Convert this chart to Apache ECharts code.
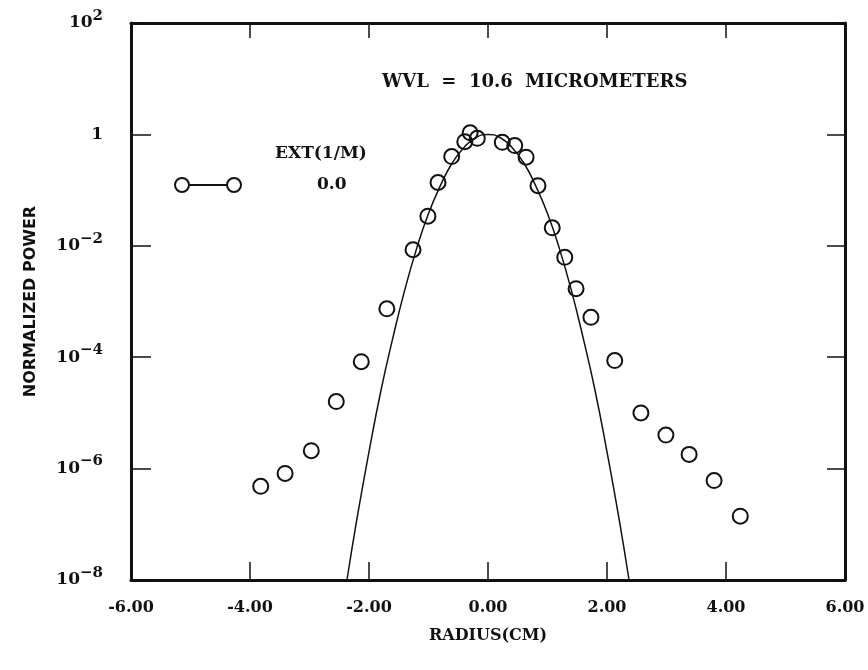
<!DOCTYPE html>
<html>
<head>
<meta charset="utf-8">
<title>Normalized power vs radius</title>
<script src="https://cdn.jsdelivr.net/npm/echarts@6/dist/echarts.min.js"></script>
<style>
  html, body { margin: 0; padding: 0; background: #fff; }
  #chart { width: 868px; height: 670px; }
</style>
</head>
<body>
<div id="chart"></div>
<script>
// Measured beam profile (circles): radius in cm, normalized power
const measuredRadius = [
  -3.82, -3.41, -2.97, -2.55, -2.13, -1.70, -1.26, -1.01, -0.84, -0.61, -0.39, -0.30, -0.18,
   0.24,  0.45,  0.64,  0.84,  1.08,  1.29,  1.48,  1.73,  2.13,  2.57,  2.99,  3.38,  3.80,  4.24
];
const measuredPower = [
  4.8e-7, 8.2e-7, 2.1e-6, 1.6e-5, 8.3e-5, 7.4e-4, 8.5e-3, 0.034, 0.137, 0.40, 0.74, 1.07, 0.85,
  0.72,   0.63,   0.39,   0.12,   0.021,  6.2e-3, 1.7e-3, 5.2e-4, 8.7e-5, 1.0e-5, 4.0e-6, 1.8e-6, 6.1e-7, 1.4e-7
];

// Reference profile (solid curve)
const curveRadius = [
  -2.37, -2.2, -2.0, -1.8, -1.6, -1.4, -1.2, -1.0, -0.8, -0.6, -0.4, -0.2, 0.0,
   0.2,   0.4,  0.6,  0.8,  1.0,  1.2,  1.4,  1.6,  1.8,  2.0,  2.2,  2.37
];
const curvePower = [
  1e-8, 1.3e-7, 2.0e-6, 2.5e-5, 2.2e-4, 1.6e-3, 8.9e-3, 0.038, 0.12, 0.31, 0.59, 0.88, 1.0,
  0.88, 0.59,   0.31,   0.12,   0.038,  8.9e-3, 1.6e-3, 2.2e-4, 2.5e-5, 2.0e-6, 1.3e-7, 1e-8
];

// Axis ticks
const xTicks = [-6, -4, -2, 0, 2, 4, 6];
const yTickExponents = [-8, -6, -4, -2, 0, 2];
const yTickValues = yTickExponents.map(e => Math.pow(10, e));

const measuredData = measuredRadius.map((r, i) => [r, measuredPower[i]]);
const curveData = curveRadius.map((r, i) => [r, curvePower[i]]);

const ink = '#111';
const serif = '"DejaVu Serif", "Liberation Serif", serif';
const sans = '"DejaVu Sans", "Liberation Sans", sans-serif';

function yLabel(v) {
  const e = Math.round(Math.log10(v));
  if (e === 0) return '{b|1}';
  const exp = e < 0 ? '\u2212' + Math.abs(e) : String(e);
  return '{b|10}{s|' + exp + '}';
}
const yRich = {
  b: { fontFamily: serif, fontWeight: 'bold', fontSize: 17, color: ink },
  s: { fontFamily: serif, fontWeight: 'bold', fontSize: 15, color: ink, padding: [0, 0, 14, 0] }
};

const axisLine = { show: true, onZero: false, lineStyle: { color: ink, width: 3 } };

const chart = echarts.init(document.getElementById('chart'), null, { renderer: 'canvas' });
chart.setOption({
  backgroundColor: '#fff',
  animation: false,
  grid: { left: 131, right: 23, top: 23, bottom: 90, containLabel: false },
  xAxis: [
    {
      type: 'value', min: -6, max: 6, interval: 2, position: 'bottom',
      name: 'RADIUS(CM)', nameLocation: 'middle', nameGap: 48,
      nameTextStyle: { fontFamily: serif, fontWeight: 'bold', fontSize: 16, color: ink },
      axisLine: axisLine,
      axisTick: { show: true, inside: true, length: 18, lineStyle: { color: ink, width: 1.5 }, customValues: xTicks },
      axisLabel: {
        margin: 20, fontFamily: serif, fontWeight: 'bold', fontSize: 16, color: ink,
        customValues: xTicks, formatter: v => v.toFixed(2)
      },
      splitLine: { show: false }
    },
    {
      type: 'value', min: -6, max: 6, interval: 2, position: 'top',
      axisLine: axisLine,
      axisTick: { show: true, inside: true, length: 15, lineStyle: { color: ink, width: 1.5 }, customValues: xTicks },
      axisLabel: { show: false },
      splitLine: { show: false }
    }
  ],
  yAxis: [
    {
      type: 'log', logBase: 10, min: 1e-8, max: 100, position: 'left',
      name: 'NORMALIZED POWER', nameLocation: 'middle', nameGap: 92, nameRotate: 90,
      nameTextStyle: { fontFamily: sans, fontWeight: 'bold', fontSize: 16, color: ink },
      axisLine: axisLine,
      axisTick: { show: true, inside: true, length: 20, lineStyle: { color: ink, width: 1.5 }, customValues: yTickValues },
      axisLabel: { margin: 28, customValues: yTickValues, formatter: yLabel, rich: yRich },
      splitLine: { show: false },
      minorTick: { show: false }
    },
    {
      type: 'log', logBase: 10, min: 1e-8, max: 100, position: 'right',
      axisLine: axisLine,
      axisTick: { show: true, inside: true, length: 18, lineStyle: { color: ink, width: 1.5 }, customValues: yTickValues },
      axisLabel: { show: false },
      splitLine: { show: false }
    }
  ],
  series: [
    {
      name: 'curve', type: 'line', xAxisIndex: 0, yAxisIndex: 0,
      data: curveData, smooth: true, showSymbol: false, clip: true,
      lineStyle: { color: ink, width: 1.5 }, z: 2
    },
    {
      name: '0.0', type: 'scatter', xAxisIndex: 0, yAxisIndex: 0,
      data: measuredData, symbol: 'circle', symbolSize: 15,
      itemStyle: { color: 'rgba(0,0,0,0)', borderColor: ink, borderWidth: 2, opacity: 1 }, z: 3
    }
  ],
  graphic: [
    {
      type: 'text', left: 382, top: 73,
      style: { text: 'WVL  =  10.6  MICROMETERS', fontFamily: serif, fontWeight: 'bold', fontSize: 18, fill: ink }
    },
    {
      type: 'text', left: 275, top: 145,
      style: { text: 'EXT(1/M)', fontFamily: serif, fontWeight: 'bold', fontSize: 17, fill: ink }
    },
    {
      type: 'text', left: 317, top: 176,
      style: { text: '0.0', fontFamily: serif, fontWeight: 'bold', fontSize: 17, fill: ink }
    },
    {
      type: 'line', shape: { x1: 189, y1: 185, x2: 227, y2: 185 },
      style: { stroke: ink, lineWidth: 2 }
    },
    {
      type: 'circle', shape: { cx: 182, cy: 185, r: 7 },
      style: { fill: 'none', stroke: ink, lineWidth: 2 }
    },
    {
      type: 'circle', shape: { cx: 234, cy: 185, r: 7 },
      style: { fill: 'none', stroke: ink, lineWidth: 2 }
    }
  ]
});
</script>
</body>
</html>
